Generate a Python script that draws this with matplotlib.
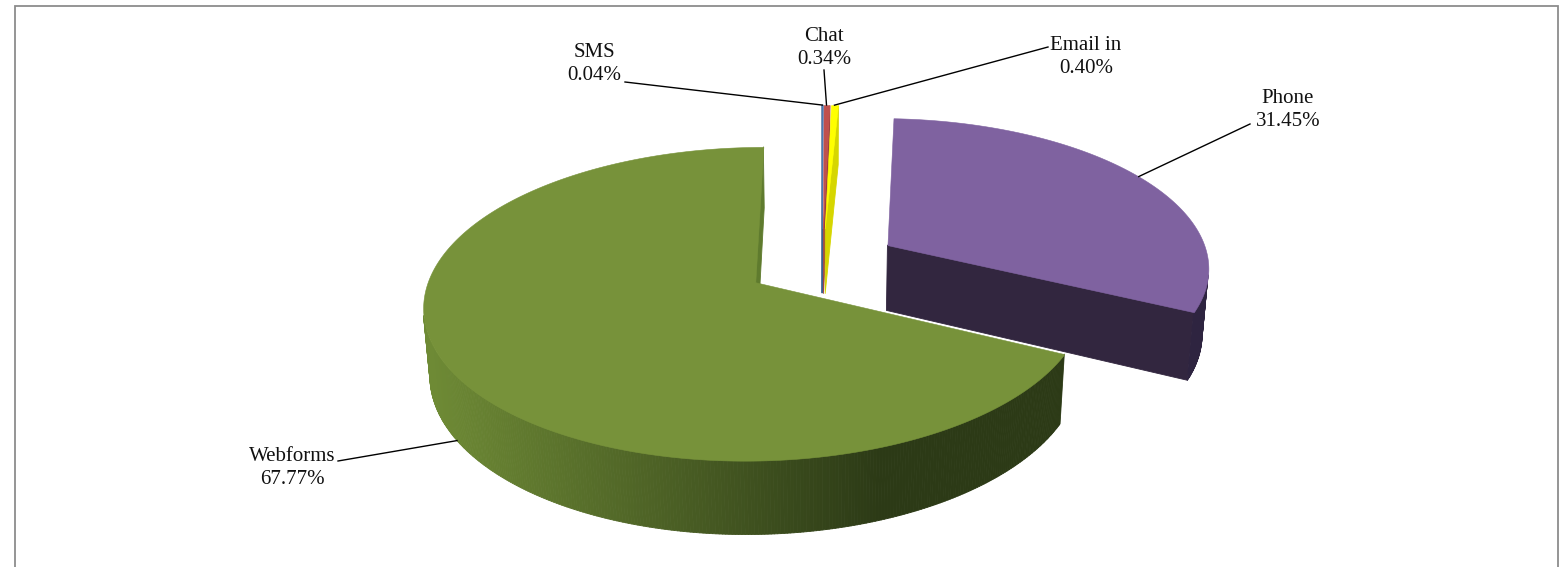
import numpy as np
import matplotlib.pyplot as plt
from matplotlib.collections import PolyCollection
from matplotlib.colors import to_rgb

# ---------- data ----------
labels = ["SMS", "Chat", "Email in", "Phone", "Webforms"]
shares = [0.04, 0.34, 0.40, 31.45, 67.77]

# ---------- styles ----------
top_colors = ["#4F81BD", "#C0504D", "#FFFF00", "#7F62A0", "#77923A"]
side_colors = ["#3B6090", "#9C3F3C", "#D6D600", "#32263F", "#5F7B2E"]
wall_light = ["#3B6090", "#9C3F3C", "#D6D600", "#3A2C4A", "#6E8A35"]
wall_dark = ["#2A4566", "#6E2B29", "#A8A800", "#2E2440", "#2C3A16"]

# label centres and where their leader lines start (pixel coords)
label_xy = [(594, 64), (824, 48), (1086, 57), (1288, 110), (292, 468)]
line_start = [(625, 82), (824, 70), (1048, 47), (1250, 124), (338, 461)]
anchor_z = [0.0, 0.0, 0.0, 0.0, -1.0]   # fraction of thickness for anchor

# ---------- 3-D pie projection ----------
ELEV = np.radians(27.5)
S = 322.0          # px per unit radius at centre depth
K = 0.135          # perspective strength
CX, CY = 822.0, 263.0
D0 = np.cos(ELEV) / K
F = S * D0
H = 0.235          # pie thickness
EXPLODE = 0.24
CAM = np.array([0.0, -D0 * np.cos(ELEV), D0 * np.sin(ELEV)])


def project(x, y, z):
    d = D0 + y * np.cos(ELEV) - z * np.sin(ELEV)
    return CX + F * x / d, CY - F * (y * np.sin(ELEV) + z * np.cos(ELEV)) / d


def direction(deg):
    r = np.radians(deg)
    return np.array([np.sin(r), np.cos(r)])


def facing(normal_xy, pt):
    n = np.array([normal_xy[0], normal_xy[1], 0.0])
    return np.dot(n, CAM - pt) > 0


fig = plt.figure(figsize=(15.6, 5.67), dpi=100)
ax = fig.add_axes([0, 0, 1, 1])
ax.set_xlim(0, 1560)
ax.set_ylim(567, 0)
ax.axis("off")

fracs = np.array(shares) / np.sum(shares)
bounds = np.concatenate([[0], np.cumsum(fracs)]) * 360.0

slices = []
for i in range(len(shares)):
    a0, a1 = bounds[i], bounds[i + 1]
    mid = (a0 + a1) / 2
    off = EXPLODE * direction(mid)
    slices.append((i, a0, a1, mid, off))

# far slices first
for i, a0, a1, mid, off in sorted(slices, key=lambda s: -s[4][1]):
    n = max(int(a1 - a0) * 2 + 2, 3)
    phi = np.linspace(a0, a1, n)
    rim = np.array([off + direction(p) for p in phi])
    polys, cols = [], []

    # radial walls
    for ang, sign in ((a0, -1), (a1, 1)):
        r = np.radians(ang)
        tangent = np.array([np.cos(r), -np.sin(r)]) * sign
        p_rim = off + direction(ang)
        centre_pt = np.array([(off[0] + p_rim[0]) / 2, (off[1] + p_rim[1]) / 2, -H / 2])
        if facing(tangent, centre_pt):
            quad = [project(off[0], off[1], 0), project(p_rim[0], p_rim[1], 0),
                    project(p_rim[0], p_rim[1], -H), project(off[0], off[1], -H)]
            polys.append(quad)
            cols.append(to_rgb(side_colors[i]))

    # outer wall
    lo, hi = np.array(to_rgb(wall_light[i])), np.array(to_rgb(wall_dark[i]))
    for j in range(n - 1):
        pm = (phi[j] + phi[j + 1]) / 2
        q = off + direction(pm)
        if not facing(direction(pm), np.array([q[0], q[1], -H / 2])):
            continue
        p1, p2 = rim[j], rim[j + 1]
        quad = [project(p1[0], p1[1], 0), project(p2[0], p2[1], 0),
                project(p2[0], p2[1], -H), project(p1[0], p1[1], -H)]
        sx = project(q[0], q[1], 0)[0]
        t = np.clip((sx - 430) / (880 - 430), 0, 1)
        polys.append(quad)
        cols.append(tuple(lo * (1 - t) + hi * t))

    if polys:
        ax.add_collection(PolyCollection(polys, facecolors=cols, edgecolors=cols,
                                         linewidths=0.6))

    # top face
    top = [project(off[0], off[1], 0)] + [project(p[0], p[1], 0) for p in rim]
    ax.add_collection(PolyCollection([top], facecolors=top_colors[i],
                                     edgecolors=top_colors[i], linewidths=0.4))

    # label + leader line
    q = off + direction(mid)
    ax_, ay_ = project(q[0], q[1], anchor_z[i] * H)
    sx0, sy0 = line_start[i]
    ax.plot([sx0, ax_], [sy0, ay_], color="black", lw=1.0, zorder=5)
    ax.text(label_xy[i][0], label_xy[i][1], f"{labels[i]}\n{shares[i]:.2f}%",
            ha="center", va="center", fontsize=15, family="Liberation Serif",
            linespacing=1.35, color="#111111", zorder=6)

# chart border
ax.plot([15, 15, 1558, 1558], [575, 6, 6, 575], color="#8c8c8c", lw=1.3,
        solid_joinstyle="miter", zorder=7)

fig.savefig("out.png", dpi=100)
